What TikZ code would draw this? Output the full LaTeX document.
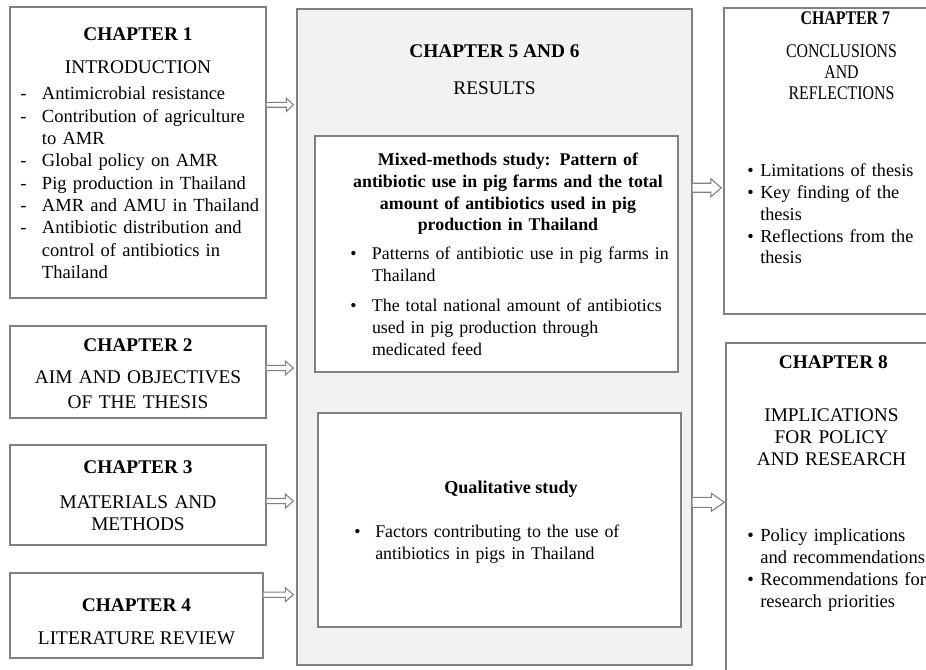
\documentclass[tikz,border=0pt]{standalone}
\usepackage{fontspec}
\setmainfont{Liberation Serif}
\newfontfamily\narrowserif[FakeStretch=0.82]{Liberation Serif}
\usetikzlibrary{calc,fit}

\definecolor{boxgray}{RGB}{128,128,128}
\definecolor{panelfill}{RGB}{242,242,242}

% list item with a hanging indent: #1 = marker box width, #2 = marker, #3 = text
\newcommand\hangitem[3]{\hangindent=#1\hangafter=1\noindent\makebox[#1][l]{#2}#3\par}

% outlined block arrow from #1 to #2; #3 shaft half-height, #4 head half-height, #5 head length
\newcommand\blockarrow[5]{%
  \draw[arrowline] ($(#1)+(0,-#3)$) -- ($(#2)+(-#5,-#3)$) -- ($(#2)+(-#5,-#4)$) -- (#2)
    -- ($(#2)+(-#5,#4)$) -- ($(#2)+(-#5,#3)$) -- ($(#1)+(0,#3)$);}

\begin{document}
\begin{tikzpicture}[x=0.75pt,y=-0.75pt,
  box/.style={draw=boxgray, line width=1pt, fill=white, inner sep=0pt},
  panel/.style={draw=boxgray, line width=1pt, fill=panelfill, inner sep=0pt},
  arrowline/.style={draw=boxgray, line width=0.8pt, fill=white, line join=miter},
  txt/.style={inner sep=0pt, anchor=base, font=\fontsize{14.5}{16.75}\selectfont},
  ctr/.style={txt, align=center},
  lst/.style={inner sep=0pt, anchor=base west}]

\clip (0,0) rectangle (926,670);
\fill[white] (0,0) rectangle (926,670);

% ---------- boxes ----------
\node[box, fit={(10,7) (266,298)}] (c1) {};
\node[box, fit={(10,326) (266,418)}] (c2) {};
\node[box, fit={(10,445) (266,545)}] (c3) {};
\node[box, fit={(10,573) (263,658)}] (c4) {};
\node[panel, fit={(297,9) (692,665)}] (res) {};
\node[box, fit={(315,136) (678,372)}] (mix) {};
\node[box, fit={(318,413) (681,627)}] (qual) {};
\node[box, fit={(724,8) (940,314)}] (c7) {};
\node[box, fit={(726,343) (940,690)}] (c8) {};

% ---------- chapter 1 ----------
\node[txt, font=\fontsize{14.5}{16.75}\selectfont\bfseries] (c1t) at (138,40.7) {CHAPTER 1};
\node[txt] (c1h) at (138,73.3) {INTRODUCTION};
\node[lst, text width=190pt, font=\fontsize{13.9}{16.75}\selectfont] (c1l) at (20,100) {\raggedright
  \hangitem{16.3pt}{-}{Antimicrobial resistance}%
  \hangitem{16.3pt}{-}{Contribution of agriculture\newline to AMR}%
  \hangitem{16.3pt}{-}{Global policy on AMR}%
  \hangitem{16.3pt}{-}{Pig production in Thailand}%
  \hangitem{16.3pt}{-}{AMR and AMU in Thailand}%
  \hangitem{16.3pt}{-}{Antibiotic distribution and\newline control of antibiotics in\newline Thailand}};

% ---------- chapters 2 to 4 ----------
\node[txt, font=\fontsize{14.5}{16.75}\selectfont\bfseries] (c2t) at (138,351.7) {CHAPTER 2};
\node[ctr, text width=190pt, font=\fontsize{14.5}{18.75}\selectfont] (c2h) at (138,383.3) {AIM AND OBJECTIVES\\OF THE THESIS};

\node[txt, font=\fontsize{14.5}{16.75}\selectfont\bfseries] (c3t) at (138,474) {CHAPTER 3};
\node[ctr, text width=190pt, font=\fontsize{14.5}{17}\selectfont] (c3h) at (138,508.3) {MATERIALS AND\\METHODS};

\node[txt, font=\fontsize{14.5}{16.75}\selectfont\bfseries] (c4t) at (136.5,611.7) {CHAPTER 4};
\node[txt] (c4h) at (136.5,644.3) {LITERATURE REVIEW};

% ---------- chapters 5 and 6 ----------
\node[txt, font=\fontsize{14.5}{16.75}\selectfont\bfseries] (c5t) at (494.5,57.3) {CHAPTER 5 AND 6};
\node[txt] (c5h) at (494.5,94.3) {RESULTS};

\node[ctr, text width=250pt, font=\fontsize{13.4}{16.3}\selectfont\bfseries] (mixh) at (508,165.7)
  {Mixed-methods study: Pattern of\\antibiotic use in pig farms and the total\\amount of antibiotics used in pig\\production in Thailand};
\node[lst, text width=255pt, font=\fontsize{13.4}{16.5}\selectfont] (mixl) at (350,260) {\raggedright
  \hangitem{16.3pt}{•}{Patterns of antibiotic use in pig farms in\newline Thailand}%
  \vspace{6pt}%
  \hangitem{16.3pt}{•}{The total national amount of antibiotics\newline used in pig production through\newline medicated feed}};

\node[txt, font=\fontsize{13.6}{16.75}\selectfont\bfseries] (qualh) at (511,493.3) {Qualitative study};
\node[lst, text width=255pt, font=\fontsize{13.4}{16.5}\selectfont] (quall) at (354,537.3) {\raggedright
  \hangitem{15.75pt}{•}{Factors contributing to the use of\newline antibiotics in pigs in Thailand}};

% ---------- chapter 7 ----------
\node[txt, font=\fontsize{14.5}{16.75}\narrowserif\bfseries] (c7t) at (845.3,25) {CHAPTER 7};
\node[ctr, text width=150pt, font=\fontsize{14.5}{15.75}\narrowserif] (c7h) at (841.5,57.3) {CONCLUSIONS\\AND\\REFLECTIONS};
\node[lst, text width=140pt, font=\fontsize{13.7}{16.35}\selectfont] (c7l) at (747,176.7) {\raggedright
  \hangitem{9.75pt}{•}{Limitations of thesis}%
  \hangitem{9.75pt}{•}{Key finding of the\newline thesis}%
  \hangitem{9.75pt}{•}{Reflections from the\newline thesis}};

% ---------- chapter 8 ----------
\node[txt, font=\fontsize{14.5}{16.75}\selectfont\bfseries] (c8t) at (833.3,368.3) {CHAPTER 8};
\node[ctr, text width=150pt, font=\fontsize{14.5}{16.5}\selectfont] (c8h) at (831.5,421.7) {IMPLICATIONS\\FOR POLICY\\AND RESEARCH};
\node[lst, text width=140pt, font=\fontsize{13.9}{16.4}\selectfont] (c8l) at (747,541.7) {\raggedright
  \hangitem{9.75pt}{•}{Policy implications\newline and recommendations}%
  \hangitem{9.75pt}{•}{Recommendations for\newline research priorities}};

% ---------- connectors ----------
\coordinate (a1s) at ($(c1.north east)!0.337!(c1.south east)$);
\coordinate (a1e) at ($(a1s -| res.west)+(-3,0)$);
\coordinate (a2s) at ($(c2.north east)!0.457!(c2.south east)$);
\coordinate (a2e) at ($(a2s -| res.west)+(-3,0)$);
\coordinate (a3s) at ($(c3.north east)!0.56!(c3.south east)$);
\coordinate (a3e) at ($(a3s -| res.west)+(-3,0)$);
\coordinate (a4s) at ($(c4.north east)!0.259!(c4.south east)$);
\coordinate (a4e) at ($(a4s -| res.west)+(-3,0)$);
\coordinate (a7s) at ($(res.north east)!0.273!(res.south east)$);
\coordinate (a7e) at ($(a7s -| c7.west)+(-2,0)$);
\coordinate (a8s) at ($(res.north east)!0.7515!(res.south east)$);
\coordinate (a8e) at ($(a8s -| c8.west)+(-1,0)$);

\blockarrow{a1s}{a1e}{2.4}{6.7}{7}
\blockarrow{a2s}{a2e}{2.6}{7}{8}
\blockarrow{a3s}{a3e}{2.6}{7}{8}
\blockarrow{a4s}{a4e}{2.6}{7}{8}
\blockarrow{a7s}{a7e}{4.5}{9}{10.5}
\blockarrow{a8s}{a8e}{5}{9}{13}

\end{tikzpicture}
\end{document}
